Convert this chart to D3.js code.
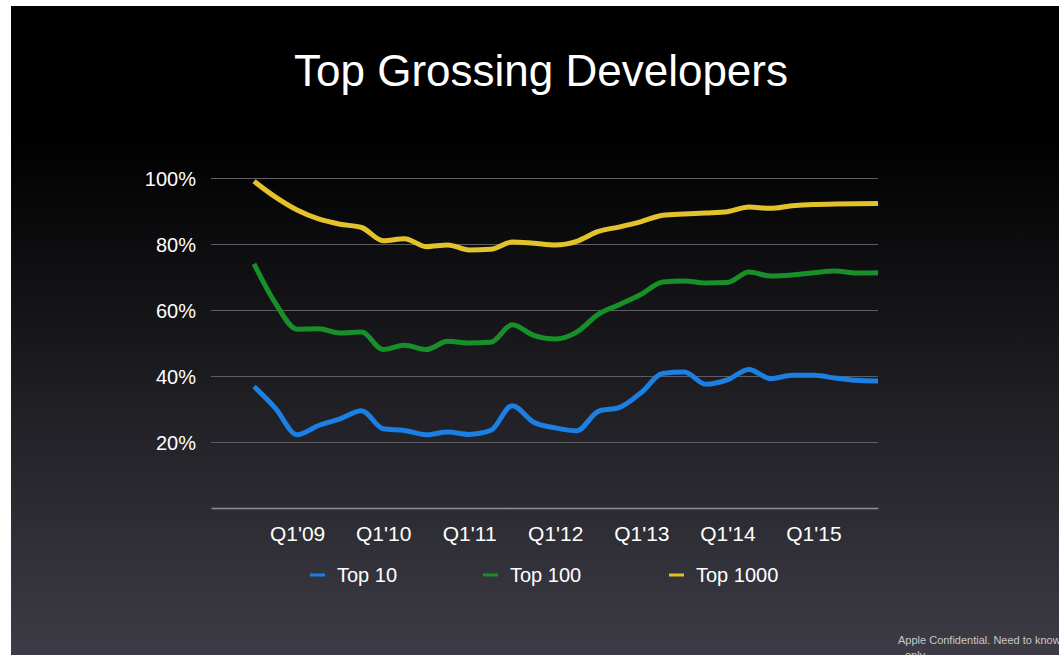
<!DOCTYPE html>
<html>
<head>
<meta charset="utf-8">
<script src="https://cdn.jsdelivr.net/npm/d3@7"></script>
<style>
    html, body { margin: 0; padding: 0; background: #fff; }
    svg { display: block; }
</style>
</head>
<body>
<div id="chart"></div>
<script>
    // quarter index: 0 = Q1'08, 2 = Q3'08 ... 31 = Q4'15
    const quarters = d3.range(2, 32);
    const top10 = [36.8, 30.2, 22.2, 25, 27, 29.5, 24, 23.5, 22.2, 23, 22.3, 23.5, 31, 26, 24.3,
        23.4, 29.3, 30.5, 35, 40.8, 41.2, 37.5, 38.8, 42, 39.2, 40.2, 40.2, 39.4, 38.7, 38.5];
    const top100 = [74, 62, 54.2, 54.3, 53, 53.3, 48, 49.3, 48, 50.5, 50, 50.2, 55.5, 52.3, 51.2,
        53.3, 58.7, 61.7, 64.8, 68.5, 68.8, 68.2, 68.3, 71.5, 70.3, 70.6, 71.3, 71.8, 71.2, 71.3];
    const top1000 = [99, 94.2, 90.3, 87.6, 86, 85, 81, 81.6, 79.2, 79.7, 78.2, 78.4, 80.6, 80.2, 79.7,
        80.8, 83.8, 85.2, 86.8, 88.7, 89.1, 89.4, 89.8, 91.2, 90.8, 91.6, 92, 92.1, 92.2, 92.3];
    const xTickIndex = [4, 8, 12, 16, 20, 24, 28];
    const xTickLabels = ["Q1'09", "Q1'10", "Q1'11", "Q1'12", "Q1'13", "Q1'14", "Q1'15"];
    const yTicks = [20, 40, 60, 80, 100];

    const series = [
        { name: 'Top 10', values: top10, color: '#1b7fe3' },
        { name: 'Top 100', values: top100, color: '#17902a' },
        { name: 'Top 1000', values: top1000, color: '#e3c32b' }
    ];

    const width = 1059, height = 655;
    const font = "'Liberation Sans', Arial, Helvetica, sans-serif";

    const svg = d3.select('#chart').append('svg')
        .attr('width', width)
        .attr('height', height);

    // background gradient
    const grad = svg.append('defs').append('linearGradient')
        .attr('id', 'bg')
        .attr('x1', 0).attr('y1', 0).attr('x2', 0).attr('y2', 1);
    grad.append('stop').attr('offset', '0%').attr('stop-color', '#000');
    grad.append('stop').attr('offset', '20%').attr('stop-color', '#000');
    grad.append('stop').attr('offset', '100%').attr('stop-color', '#3d3c46');

    svg.append('rect').attr('width', width).attr('height', height).attr('fill', '#fff');
    svg.append('rect')
        .attr('x', 11).attr('y', 6)
        .attr('width', width - 11).attr('height', height - 6)
        .attr('fill', 'url(#bg)');

    // title
    svg.append('text')
        .attr('x', 541).attr('y', 86)
        .attr('text-anchor', 'middle')
        .attr('fill', '#fff')
        .style('font-family', font)
        .style('font-size', '44px')
        .text('Top Grossing Developers');

    const x = d3.scaleLinear().domain([0, 31]).range([211, 878]);
    const y = d3.scaleLinear().domain([0, 100]).range([508, 178]);

    // gridlines + y labels
    const yAxis = svg.append('g')
        .attr('transform', 'translate(211,0)')
        .call(d3.axisLeft(y).tickValues(yTicks).tickSize(-(878 - 211)).tickPadding(15)
            .tickFormat(d => d + '%'));
    yAxis.select('.domain').remove();
    yAxis.selectAll('line').attr('stroke', '#5d5d62').attr('stroke-width', 1);
    yAxis.selectAll('text')
        .attr('fill', '#fff')
        .attr('dy', '0.35em')
        .style('font-family', font)
        .style('font-size', '20px');

    // baseline + x labels
    const xAxis = svg.append('g')
        .attr('transform', 'translate(0,508)')
        .call(d3.axisBottom(x).tickValues(xTickIndex).tickSize(0).tickPadding(18)
            .tickFormat((d, i) => xTickLabels[i]));
    xAxis.select('.domain').attr('stroke', '#8e8e94').attr('stroke-width', 1.5);
    xAxis.selectAll('text')
        .attr('fill', '#fff')
        .style('font-family', font)
        .style('font-size', '21px');

    // lines
    const line = d3.line()
        .x((d, i) => x(quarters[i]))
        .y(d => y(d))
        .curve(d3.curveMonotoneX);

    svg.append('g').selectAll('path')
        .data(series)
        .join('path')
        .attr('d', d => line(d.values))
        .attr('fill', 'none')
        .attr('stroke', d => d.color)
        .attr('stroke-width', 5)
        .attr('stroke-linejoin', 'round');

    // legend
    const legendX = [310, 483, 669];
    const legend = svg.append('g').selectAll('g')
        .data(series)
        .join('g')
        .attr('transform', (d, i) => `translate(${legendX[i]},575)`);
    legend.append('line')
        .attr('x1', 0).attr('x2', 15)
        .attr('stroke', d => d.color)
        .attr('stroke-width', 3);
    legend.append('text')
        .attr('x', 27).attr('y', 7)
        .attr('fill', '#fff')
        .style('font-family', font)
        .style('font-size', '20px')
        .text(d => d.name);

    // footer
    svg.append('text')
        .attr('x', 898).attr('y', 644)
        .attr('fill', '#c8c8cc')
        .style('font-family', font)
        .style('font-size', '11px')
        .text('Apple Confidential. Need to know');
    svg.append('text')
        .attr('x', 905).attr('y', 659)
        .attr('fill', '#c8c8cc')
        .style('font-family', font)
        .style('font-size', '11px')
        .text('only');
</script>
</body>
</html>
